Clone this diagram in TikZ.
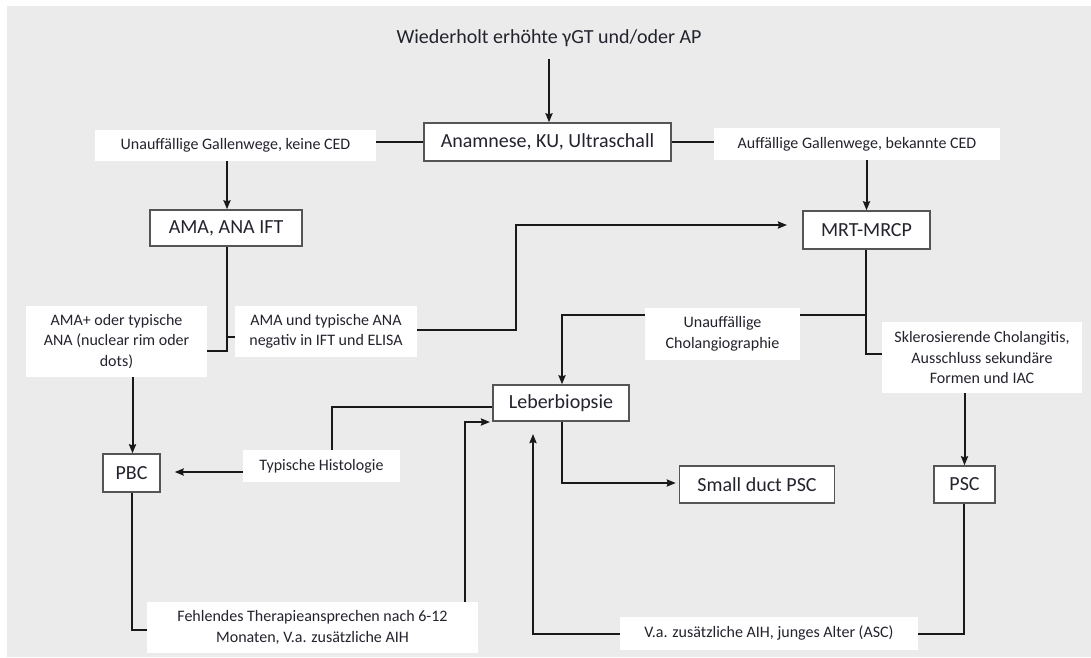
\documentclass[tikz,border=0pt]{standalone}
\usepackage{fontspec}
\setmainfont{Carlito}
\usetikzlibrary{arrows.meta,calc}
\definecolor{bg}{RGB}{234,235,234}
\definecolor{ln}{RGB}{25,25,25}
\definecolor{bx}{RGB}{85,85,85}
\definecolor{tx}{RGB}{35,35,45}
\tikzset{
  mainbox/.style={draw=bx, line width=1.4pt, fill=white, inner sep=0pt, text=tx,
    font=\fontsize{20}{24}\selectfont},
  lbl/.style={fill=white, inner sep=0pt, text=tx, align=center,
    font=\fontsize{16}{20.5}\selectfont},
  conn/.style={draw=ln, line width=2pt},
  arr/.style={conn, -{Stealth[length=9pt,width=7pt,inset=1pt]}},
}
\begin{document}
\begin{tikzpicture}[x=1pt,y=-1pt]
\useasboundingbox (0,0) rectangle (1091,657);
\fill[bg] (7,6) rectangle (1091,657);

% title
\node[text=tx, font=\fontsize{20}{24}\selectfont, inner sep=0pt] (title) at (549,38) {Wiederholt erhöhte γGT und/oder AP};

% main boxes
\node[mainbox, minimum width=247pt, minimum height=38pt] (anam) at (547.5,142) {Anamnese, KU, Ultraschall};
\node[mainbox, minimum width=152pt, minimum height=36pt] (ama) at (226,228) {AMA, ANA IFT};
\node[mainbox, minimum width=127pt, minimum height=38pt] (mrt) at (866.5,230) {MRT-MRCP};
\node[mainbox, minimum width=136pt, minimum height=36pt] (leber) at (561,403) {Leberbiopsie};
\node[mainbox, minimum width=57pt, minimum height=38pt] (pbc) at (131.5,473) {PBC};
\node[mainbox, minimum width=155pt, minimum height=37pt] (small) at (757,484.5) {Small duct PSC};
\node[mainbox, minimum width=61pt, minimum height=37pt] (psc) at (964.5,484.5) {PSC};

% labels
\node[lbl, minimum width=281pt, minimum height=31pt] (lleft) at (235.5,145.5) {Unauffällige Gallenwege, keine CED};
\node[lbl, minimum width=286pt, minimum height=32pt] (lright) at (857,144) {Auffällige Gallenwege, bekannte CED};
\node[lbl, minimum width=181pt, minimum height=71pt] (amaplus) at (116.5,341.5) {AMA+ oder typische\\ANA (nuclear rim oder\\dots)};
\node[lbl, minimum width=182pt, minimum height=51pt] (amaneg) at (326,331.5) {AMA und typische ANA\\negativ in IFT und ELISA};
\node[lbl, minimum width=155pt, minimum height=52pt] (chol) at (722.5,334) {Unauffällige\\Cholangiographie};
\node[lbl, minimum width=200pt, minimum height=71pt] (skler) at (982,357.5) {Sklerosierende Cholangitis,\\Ausschluss sekundäre\\Formen und IAC};
\node[lbl, minimum width=157pt, minimum height=32pt] (histo) at (321.5,466) {Typische Histologie};
\node[lbl, minimum width=331pt, minimum height=51pt] (fehl) at (312.5,627.5) {Fehlendes Therapieansprechen nach 6-12\\Monaten, V.a. zusätzliche AIH};
\node[lbl, minimum width=298pt, minimum height=33pt] (va) at (769,633.5) {V.a. zusätzliche AIH, junges Alter (ASC)};

% helper coordinates
\coordinate (jama) at (227,351);
\coordinate (jneg) at (227,337);
\coordinate (negc) at (516,330);
\coordinate (negt) at (516,225);
\coordinate (mrtin) at (787,225);
\coordinate (mrtb) at (866,315);
\coordinate (mrtc) at (866,354);
\coordinate (cholc) at (562,315);
\coordinate (histc) at (332,407);
\coordinate (pbcc) at (132,630);
\coordinate (fehlc) at (465,422);
\coordinate (leberin2) at (490,422);
\coordinate (vac) at (964,633.5);
\coordinate (val) at (533,633.5);
\coordinate (vat) at (533,434);
\coordinate (lebc) at (562,483);

% connectors
\draw[arr] (title.south) ++(0,12) -- (title.south |- anam.north);
\draw[conn] (anam.west) -- (anam.west -| lleft.east);
\draw[conn] (anam.east) -- (anam.east -| lright.west);
\draw[arr] (lleft.south -| ama.north) ++(1,0) -- ($(ama.north)+(1,0)$);
\draw[arr] (lright.south -| mrt.north) -- (mrt.north);
\draw[conn] (ama.south -| jama) -- (jama) -- (jama -| amaplus.east);
\draw[conn] (jneg) -- (jneg -| amaneg.west);
\draw[arr] (negc -| amaneg.east) -- (negc) -- (negt) -- (mrtin);
\draw[conn] (mrt.south -| mrtc) -- (mrtc) -- (mrtc -| skler.west);
\draw[conn] (mrtb) -- (mrtb -| chol.east);
\draw[arr] (cholc -| chol.west) -- (cholc) -- (cholc |- leber.north);
\draw[arr] (amaplus.south -| pbc.north) ++(1,0) -- ($(pbc.north)+(1,0)$);
\draw[arr, shorten >=14pt] (histo.west |- 0,472) -- (pbc.east |- 0,472);
\draw[conn] (histc |- histo.north) -- (histc) -- (histc -| leber.west);
\draw[conn] (pbc.south -| pbcc) -- (pbcc) -- (pbcc -| fehl.west);
\draw[arr] (fehlc |- fehl.north) -- (fehlc) -- (leberin2);
\draw[conn] (va.east) -- (vac) -- (vac |- psc.south);
\draw[arr] (va.west) -- (val) -- (vat);
\draw[arr, shorten >=3pt] (leber.south -| lebc) -- (lebc) -- (lebc -| small.west);
\draw[arr] (skler.south -| psc.north) -- (psc.north);
\end{tikzpicture}
\end{document}
